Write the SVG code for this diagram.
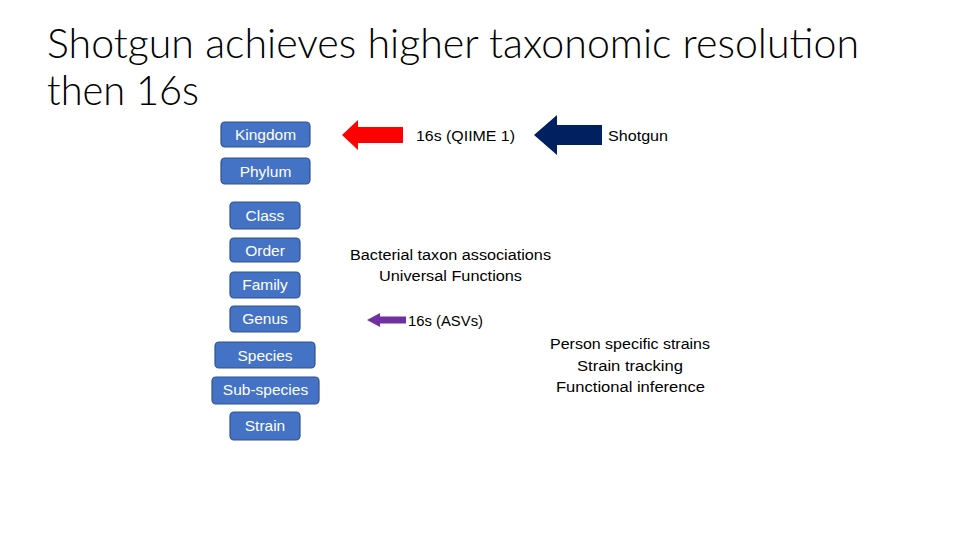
<svg xmlns="http://www.w3.org/2000/svg" width="960" height="540" viewBox="0 0 960 540">
<style>
.title{font-family:"Lato","Liberation Sans","Open Sans",sans-serif;font-weight:300;font-size:41px;fill:#000;}
.box rect{fill:#4472C4;stroke:#2F528F;stroke-width:1.2;}
.box text{font-family:"Liberation Sans","Open Sans",sans-serif;font-size:15.5px;fill:#fff;text-anchor:middle;}
.lbl{font-family:"Liberation Sans","Open Sans",sans-serif;font-size:15.5px;fill:#000;}
.c{text-anchor:middle;}
</style>
<rect width="960" height="540" fill="#fff"/>
<text class="title" x="47" y="58" textLength="812" lengthAdjust="spacingAndGlyphs">Shotgun achieves higher taxonomic resolution</text>
<text class="title" x="47" y="105" textLength="152" lengthAdjust="spacingAndGlyphs">then 16s</text>

<g id="kingdom" class="box"><rect x="221" y="122" width="89" height="25" rx="4"/><text x="265.5" y="140">Kingdom</text></g>
<g id="phylum" class="box"><rect x="221" y="158" width="89" height="26" rx="4"/><text x="265.5" y="177">Phylum</text></g>
<g id="class" class="box"><rect x="230" y="202" width="70" height="27" rx="4"/><text x="265" y="221">Class</text></g>
<g id="order" class="box"><rect x="230" y="238" width="70" height="24" rx="4"/><text x="265" y="256">Order</text></g>
<g id="family" class="box"><rect x="230" y="272" width="70" height="26" rx="4"/><text x="265" y="290">Family</text></g>
<g id="genus" class="box"><rect x="230" y="306" width="70" height="26" rx="4"/><text x="265" y="324">Genus</text></g>
<g id="species" class="box"><rect x="215" y="342" width="100" height="26" rx="4"/><text x="265" y="361">Species</text></g>
<g id="subspecies" class="box"><rect x="212" y="377" width="107" height="27" rx="4"/><text x="265.5" y="395">Sub-species</text></g>
<g id="strain" class="box"><rect x="230" y="412" width="70" height="28" rx="4"/><text x="265" y="431">Strain</text></g>

<g id="connectors">
<polygon points="342,135 358,120 358,127 403,127 403,143 358,143 358,150" fill="#FF0000"/>
<polygon points="534,135 557,115 557,125 602,125 602,145 557,145 557,155" fill="#002060"/>
<polygon points="367,320 380,313 380,316.5 406,316.5 406,323.5 380,323.5 380,327" fill="#7030A0"/>
</g>

<text class="lbl" x="416" y="141" textLength="99" lengthAdjust="spacingAndGlyphs">16s (QIIME 1)</text>
<text class="lbl" x="608" y="141" textLength="60" lengthAdjust="spacingAndGlyphs">Shotgun</text>
<text class="lbl c" x="450.5" y="260" textLength="201" lengthAdjust="spacingAndGlyphs">Bacterial taxon associations</text>
<text class="lbl c" x="450.5" y="281" textLength="143" lengthAdjust="spacingAndGlyphs">Universal Functions</text>
<text class="lbl" x="408" y="326" textLength="75" lengthAdjust="spacingAndGlyphs">16s (ASVs)</text>
<text class="lbl c" x="630" y="349" textLength="160" lengthAdjust="spacingAndGlyphs">Person specific strains</text>
<text class="lbl c" x="630" y="371" textLength="106" lengthAdjust="spacingAndGlyphs">Strain tracking</text>
<text class="lbl c" x="630.5" y="392" textLength="149" lengthAdjust="spacingAndGlyphs">Functional inference</text>
</svg>
